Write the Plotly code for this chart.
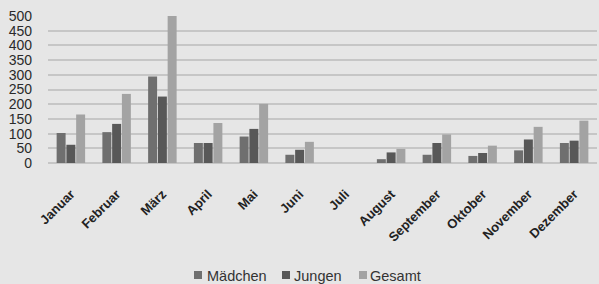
import plotly.graph_objects as go

months = ["Januar", "Februar", "März", "April", "Mai", "Juni", "Juli",
          "August", "September", "Oktober", "November", "Dezember"]
maedchen = [102, 105, 294, 68, 90, 28, 0, 13, 28, 24, 43, 68]
jungen = [62, 133, 226, 68, 116, 45, 0, 36, 68, 34, 80, 76]
gesamt = [165, 235, 500, 136, 201, 72, 0, 48, 97, 59, 123, 144]
y_ticks = [0, 50, 100, 150, 200, 250, 300, 350, 400, 450, 500]
series_names = ["Mädchen", "Jungen", "Gesamt"]
series_colors = ["#6f6f6f", "#585858", "#a3a3a3"]

W, H = 599, 284
L, R, T, B = 48, 2, 16, 121
PW, PH = W - L - R, H - T - B


def px_x(p):
    return (p - L) / PW


def px_y(p):
    return (H - B - p) / PH


fig = go.Figure()
for name, vals, col in zip(series_names, [maedchen, jungen, gesamt], series_colors):
    fig.add_bar(x=months, y=vals, name=name, marker_color=col, marker_line_width=0)

# manual legend (compact, like the reference)
legend_swatch_x = [194, 282, 359]
legend_text_x = [205, 292, 368]
shapes = []
annotations = []
for name, col, sx, tx in zip(series_names, series_colors, legend_swatch_x, legend_text_x):
    shapes.append(dict(type="rect", xref="paper", yref="paper",
                       x0=px_x(sx), x1=px_x(sx + 8), y0=px_y(279), y1=px_y(271),
                       fillcolor=col, line_width=0))
    annotations.append(dict(text=name, xref="paper", yref="paper",
                            x=px_x(tx), y=px_y(276), xanchor="left", yanchor="middle",
                            showarrow=False, font=dict(size=14.5, color="#333333")))

fig.update_layout(
    width=W, height=H,
    margin=dict(l=L, r=R, t=T, b=B),
    paper_bgcolor="#e6e6e6", plot_bgcolor="#e6e6e6",
    barmode="group", bargap=0.36, bargroupgap=0.08,
    font=dict(family="Liberation Sans, Arial, sans-serif", color="#2a2a2a"),
    showlegend=False,
    shapes=shapes, annotations=annotations,
    xaxis=dict(tickangle=-45, showgrid=False, showline=False, zeroline=False,
               ticks="", tickfont=dict(size=13, color="#222222", weight="bold"),
               ticklabelstandoff=20),
    yaxis=dict(range=[0, 500], tickvals=y_ticks, showgrid=True,
               gridcolor="#c6c6c6", gridwidth=2, zeroline=True,
               zerolinecolor="#c6c6c6", zerolinewidth=2, showline=False,
               ticks="", tickfont=dict(size=14, color="#2a2a2a"),
               ticklabelstandoff=15),
)

fig.write_html("out.html", config={"responsive": False, "displayModeBar": False},
               post_script="document.body.style.margin='0';document.body.style.padding='0';")
